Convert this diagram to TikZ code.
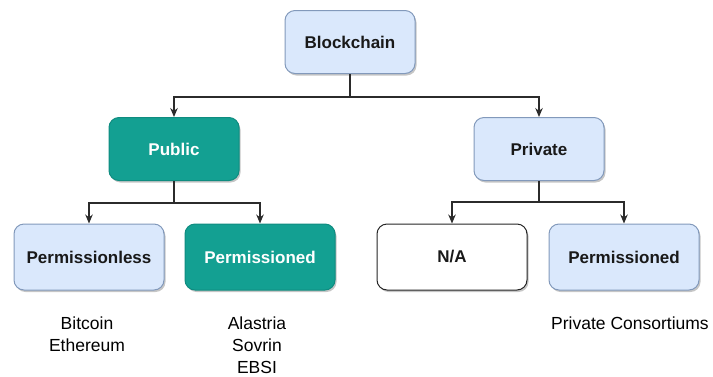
\documentclass[tikz,border=0pt]{standalone}
\usepackage{fontspec}
\setmainfont{Liberation Sans}
\usetikzlibrary{arrows.meta,shadows}
\definecolor{boxblue}{HTML}{DAE8FC}
\definecolor{boxblueline}{HTML}{8299BB}
\definecolor{boxteal}{HTML}{13A092}
\definecolor{boxtealline}{HTML}{0F8C80}
\definecolor{linegray}{HTML}{2B2B2B}
\begin{document}
\begin{tikzpicture}[x=1pt,y=1pt,->,>={Stealth[length=9pt,width=7.5pt]}]
        \tikzstyle{cat}=[rectangle,rounded corners=10pt,draw=boxblueline,fill=boxblue,line width=1pt,
          font=\fontsize{17}{20}\selectfont\bfseries,text=black!90,
          drop shadow={shadow xshift=1.5pt,shadow yshift=-2pt,opacity=0.45}]
        \tikzstyle{top}=[cat,minimum width=130pt,minimum height=63pt]
        \tikzstyle{leaf}=[cat,minimum width=150pt,minimum height=66pt]
        \tikzstyle{teal}=[fill=boxteal,draw=boxtealline,text=white]
        \tikzstyle{blank}=[fill=white,draw=black!85]
        \tikzstyle{example}=[align=center,font=\fontsize{17.5}{22}\selectfont]
        \tikzstyle{edge}=[draw=linegray,line width=1.1pt]
        \useasboundingbox (0,0) rectangle (713,-376);
       \begin{scope}
         \node [top] (chain) at (350,-42) {Blockchain};
         \node [top,teal] (public) at (174,-149) {Public};
         \node [top] (private) at (539,-149) {Private};
         \node [leaf] (publess) at (89,-257) {Permissionless};
         \node [leaf,teal] (pubperm) at (260,-257) {Permissioned};
         \node [leaf,blank] (privna) at (452,-257) {N/A};
         \node [leaf] (privperm) at (624,-257) {Permissioned};
         \node [example] (ex1) at (87,-334) {Bitcoin\\Ethereum};
         \node [example] (ex2) at (257,-345) {Alastria\\Sovrin\\EBSI};
         \node [example] (ex3) at (630,-323) {Private Consortiums};
         \path[edge] (chain.south) -- ++(0,-23) -| (public.north);
         \path[edge] (chain.south) -- ++(0,-23) -| (private.north);
         \path[edge] (public.south) -- ++(0,-22) -| (publess.north);
         \path[edge] (public.south) -- ++(0,-22) -| (pubperm.north);
         \path[edge] (private.south) -- ++(0,-21) -| (privna.north);
         \path[edge] (private.south) -- ++(0,-21) -| (privperm.north);
        \end{scope}
\end{tikzpicture}
\end{document}
